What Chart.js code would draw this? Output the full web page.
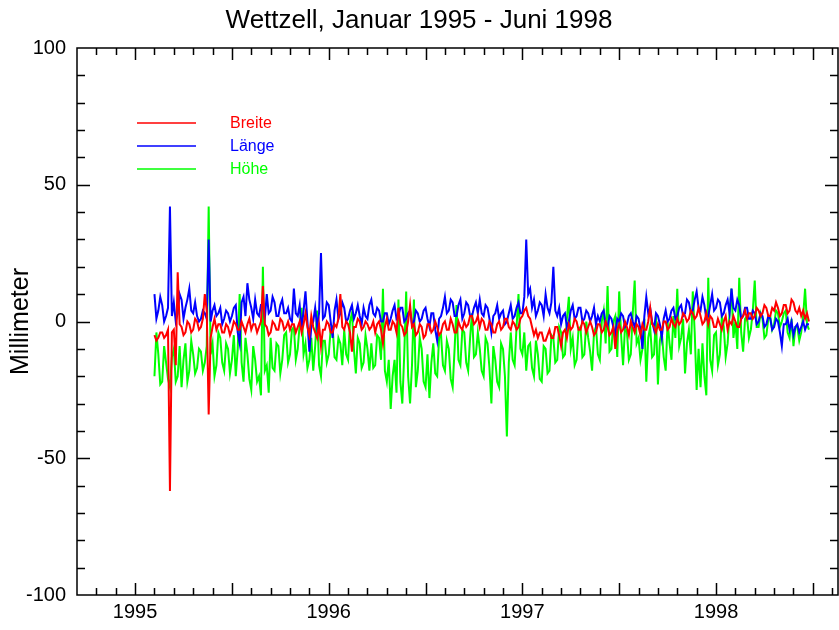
<!DOCTYPE html>
<html>
<head>
<meta charset="utf-8">
<script src="https://cdn.jsdelivr.net/npm/chart.js@4"></script>
<style>
  body { margin: 0; background: #fff; }
  #wrap { width: 839px; height: 630px; }
</style>
</head>
<body>
<div id="wrap"><canvas id="chart"></canvas></div>
<script>
// time grid of the samples (decimal years)
const startYear = 1995.10;
const stepYear = 0.01;

// Breite (north), millimeter
const breite = [
  -5, -7, -6, -4, -4, -6, -5, -3, -62, -4, -3, -16, 18, -1, -2, -5, -4, 0, -1, -4, -3, 1, 0, -3, -2, 1, 10, 4,
  -34, -6, -2, 1, -3, -1, -1, -4, -4, -1, -2, -5, -3, 0, -1, -3, -3, 0, -2, -4, -1, 1, -3, -1, -1, -4, -2, 0,
  13, -1, -2, -5, -4, 0, -1, -3, -3, 1, 0, -3, -2, 0, -3, -1, -1, -4, -2, 0, -4, -1, 3, -2, -5, 2, -2, -4,
  -6, -1, -9, -3, -3, 0, -1, -4, -4, -1, -2, 1, 10, -2, -3, 0, -1, -4, -11, -2, -2, 1, 0, -3, -2, 0, -1, -3,
  -2, 0, -4, -1, 0, -3, -8, -2, 1, -3, -3, 0, -1, -4, 5, -1, -2, -5, -4, 0, 6, -2, -1, -5, -4, -1, -2, -6,
  -5, -1, -1, -4, -3, 0, -2, -5, -4, -1, 0, -3, -3, 1, -1, -4, -4, 0, -2, -3, 0, -2, -1, 2, 2, -1, 0, 2,
  -2, 1, 0, -3, -3, 0, -1, -4, -4, -1, 0, -3, -2, 1, 1, -2, -3, 0, -1, -3, -2, 1, 2, 4, 5, 2, 1, -2,
  -5, -3, -6, -4, -4, -7, -7, -5, -3, -6, -6, -2, -2, -5, -9, -4, -3, -6, -1, -3, -2, 1, 0, -3, -3, 0, -1, -4, -2, 0,
  -2, -5, -4, -1, -1, -4, -3, 0, -2, -5, -4, -2, -10, -3, -1, -4, -3, 0, -2, -5, 0, -2, -4, -1, -2, -5, -1, -3,
  -3, 0, 5, -1, -2, -4, -1, -3, -3, 0, 0, -3, -2, 1, -1, -2, 1, -1, 0, 3, 2, 0, 1, 4, 3, 1, 2, 5,
  2, -1, 0, 3, -1, 2, 1, -2, -2, 1, -1, -3, 0, 2, -3, 0, -1, 2, 0, -2, -2, 1, 2, 4, 1, 3, 3, 1, 2, 5,
  4, 2, 3, 6, 5, 2, 2, 5, 4, 7, 5, 2, 3, 6, 6, 3, 4, 8, 7, 4, 3, 5, 2, 4, 1, 3, 0
];

// Länge (east), millimeter
const laenge = [
  10, 1, 4, 9, 6, 0, 2, 5, 42, 2, 7, 0, 3, 10, 8, 1, 5, 8, 12, 4, 3, 7, 2, 0, 1, 4, 3, 1,
  30, 0, 4, 6, 2, 3, 5, -1, 1, 4, 3, 0, 2, 5, 6, -4, -8, 7, 9, 2, 14, 8, 5, 1, 8, 3, 2, 6,
  6, 1, 10, 3, 4, 9, 7, 2, 2, 6, 8, 3, 3, 5, 1, 0, 12, 3, 2, 6, -3, 4, 11, 0, -11, -2, 0, 5,
  -2, 3, 25, 1, 2, 7, 6, 0, -6, 4, 8, 1, 3, 7, 5, 0, 1, 4, 6, 1, 3, 6, 2, -1, 5, 2, 1, 6,
  8, 3, 2, 5, 4, 0, 0, 3, 3, -1, 1, 4, 6, 1, 2, 5, 5, 0, 1, 3, 4, -1, 0, 4, 3, 0, 1, 4,
  5, 1, -2, 3, 3, -3, -7, 1, 2, 5, 9, 3, 4, 8, 7, 2, 2, 6, 8, 1, 3, 7, 6, 2, 2, 5, 7, 3,
  8, 3, 2, 6, 5, 1, -4, 2, 3, 6, 1, 3, 4, -1, 0, 3, 6, 1, 2, 5, 7, 3, 3, 9, 30, 10, 12, 5, 8, 2,
  4, 7, 6, 2, 10, 5, 3, 7, 20, 4, 2, 5, -1, 2, 3, -2, 0, 4, 6, 1, 2, 5, 5, 0, 1, 4, 3, 0,
  2, 5, -1, 2, 0, 3, 4, -1, -2, 2, 1, -2, -5, 1, 0, 3, 2, -2, -1, 2, 3, 0, -2, 2, 1, -3, -10, 2,
  9, 3, 5, 0, -3, 3, 2, -1, -6, 1, 4, 0, 1, 4, 5, 1, 2, 5, 6, 2, 3, 8, 7, 3, 4, 8, 11, 5,
  4, 9, 6, 1, 2, 6, 10, 4, 5, 8, 7, 2, 3, 6, 8, 3, 12, 5, 4, 8, 6, 1, 2, 5, 5, 1, 1, 4,
  3, -1, 0, 3, 2, -2, -1, 2, 1, -3, -2, 1, 0, -4, -9, -1, -1, 1, -3, 0, -5, -2, -1, -4, -2, 0, -3, -1, -1
];

// Höhe (up), millimeter
const hoehe = [
  -20, -4, -12, -23, -22, -9, -15, -21, -24, -13, -10, -22, -20, -9, -24, -14, -8, -22, -18, -7, -12, -19, -17, -10, -11, -18, -15, -9,
  42, -12, -8, -20, -16, -4, -6, -15, -18, -8, -10, -19, -14, -5, -20, -10, 10, -15, -22, -6, -12, -21, -25, -9, -14, -22, -20, -27,
  20, -18, -16, -26, -6, -17, -18, -8, -9, -19, -14, -5, -4, -15, -12, -3, -2, -14, -10, -1, 5, -12, -8, -17, -14, -6, -18, -9,
  4, -16, -20, -7, -7, -15, -12, -3, -2, -13, -14, -6, -8, -16, -3, -12, -14, 0, 3, -10, -19, -6, -8, -17, -15, -5, -10, -18,
  -8, -17, -16, -5, -6, -14, 12, -18, -22, -14, -32, -20, -14, -26, 8, -22, -30, -12, 11, -20, -30, -16, 8, -24, -18, -6,
  -10, -22, -24, -12, -28, -15, -8, -19, -20, -6, -5, -16, -18, -7, -10, -21, -24, -10, 6, -14, -16, -3, -4, -15, -18, -6, 3, -13, -12, -4,
  -10, -18, -20, -6, -8, -17, -30, -9, -14, -22, -24, -8, -10, -20, -42, -15, -4, -14, -16, -2, 10, -10, -12, -4, -18, -9, -8, -17,
  -20, -7, -12, -21, -22, -9, -10, -19, -18, -5, -6, -15, -14, -2, -4, -13, -12, 1, 9, -10, -6, -16, -14, -3, -2, -13, -12, 0, -6, -11,
  -18, -4, -2, -12, -14, 0, 4, -8, 13, -11, -10, 0, 2, -13, 11, -5, -16, -2, -4, -14, -12, 3, 15, -8, -6, -14, -10, 1,
  -22, -6, -2, -13, -12, 2, -23, -7, -4, -13, -18, 0, -8, -14, 2, -6, 12, -9, -6, 1, -19, -8, -3, -12, 11, -4, -25, -10,
  -24, -8, -20, -27, 16, -14, -18, -5, -4, -16, -12, 2, -2, -13, -8, 3, 12, -6, 0, -10, 16, -4, -11, 1, 2, -6, -3, 4,
  15, -2, -2, 3, 1, -6, -5, 1, 2, -3, -1, 4, 3, -2, 0, 3, 4, -4, -6, 1, -9, -2, -2, -7, -4, 2, 12, -1, -3
];

const seriesLabels = ['Breite', 'Länge', 'Höhe'];
const seriesColors = ['#ff0000', '#0000ff', '#00ff00'];

const yearTicks = [1995, 1996, 1997, 1998];
const mmTicks = [-100, -50, 0, 50, 100];

const xMin = 1994.7, xMax = 1998.63;
const yMin = -100, yMax = 100;

const fontFamily = "'Liberation Sans', Arial, sans-serif";

function toPoints(values) {
  return values.map((v, i) => ({ x: startYear + i * stepYear, y: v }));
}

// IDL-style box with inward ticks on all four sides
const frameTicks = {
  id: 'frameTicks',
  afterDraw(chart) {
    const ctx = chart.ctx;
    const { left, right, top, bottom } = chart.chartArea;
    const xs = chart.scales.x, ys = chart.scales.y;
    ctx.save();
    ctx.strokeStyle = '#000';
    ctx.lineWidth = 1.5;
    ctx.strokeRect(left, top, right - left, bottom - top);
    ctx.beginPath();
    for (let k = 1; xMin + k * 0.1 < xMax; k++) {
      const v = xMin + k * 0.1;
      const major = Math.abs(v * 2 - Math.round(v * 2)) < 1e-6;
      const len = major ? 12 : 7;
      const px = Math.round(xs.getPixelForValue(v)) + 0.5;
      ctx.moveTo(px, bottom); ctx.lineTo(px, bottom - len);
      ctx.moveTo(px, top); ctx.lineTo(px, top + len);
    }
    for (let v = yMin + 10; v < yMax; v += 10) {
      const len = v % 50 === 0 ? 13 : 8;
      const py = Math.round(ys.getPixelForValue(v)) + 0.5;
      ctx.moveTo(left, py); ctx.lineTo(left + len, py);
      ctx.moveTo(right, py); ctx.lineTo(right - len, py);
    }
    ctx.stroke();
    ctx.restore();
  }
};

// legend drawn inside the plot, upper left
const innerLegend = {
  id: 'innerLegend',
  afterDatasetsDraw(chart) {
    const ctx = chart.ctx;
    const { left, top } = chart.chartArea;
    ctx.save();
    ctx.font = "16px 'Liberation Sans', Arial, sans-serif";
    ctx.textBaseline = 'middle';
    chart.data.datasets.forEach((ds, i) => {
      const y = top + 75 + i * 23;
      ctx.strokeStyle = ds.borderColor;
      ctx.lineWidth = 1.5;
      ctx.beginPath();
      ctx.moveTo(left + 60, y);
      ctx.lineTo(left + 119, y);
      ctx.stroke();
      ctx.fillStyle = ds.borderColor;
      ctx.fillText(ds.label, left + 153, y + 1);
    });
    ctx.restore();
  }
};

new Chart(document.getElementById('chart'), {
  type: 'line',
  data: {
    datasets: [breite, laenge, hoehe].map((vals, i) => ({
      label: seriesLabels[i],
      data: toPoints(vals),
      borderColor: seriesColors[i],
      backgroundColor: seriesColors[i],
      borderWidth: 2,
      pointRadius: 0,
      tension: 0,
      fill: false,
    })),
  },
  options: {
    responsive: true,
    maintainAspectRatio: false,
    animation: false,
    layout: { padding: { left: 0, right: 1, top: 0, bottom: 0 } },
    plugins: {
      legend: { display: false },
      tooltip: { enabled: false },
      title: {
        display: true,
        text: 'Wettzell, Januar 1995 - Juni 1998',
        color: '#000',
        font: { family: fontFamily, size: 26, weight: 'normal' },
        padding: { top: 5, bottom: 11.8 },
      },
    },
    scales: {
      x: {
        type: 'linear',
        min: xMin,
        max: xMax,
        afterBuildTicks: (scale) => { scale.ticks = yearTicks.map((v) => ({ value: v })); },
        afterFit: (scale) => { scale.height = 35; },
        grid: { display: false, drawTicks: false },
        border: { display: false },
        ticks: {
          color: '#000',
          padding: 5,
          maxRotation: 0,
          font: { family: fontFamily, size: 20 },
          callback: (v) => String(v),
        },
      },
      y: {
        min: yMin,
        max: yMax,
        afterBuildTicks: (scale) => { scale.ticks = mmTicks.map((v) => ({ value: v })); },
        afterFit: (scale) => { scale.width = 77; },
        grid: { display: false, drawTicks: false },
        border: { display: false },
        title: {
          display: true,
          text: 'Millimeter',
          color: '#000',
          font: { family: fontFamily, size: 25 },
          padding: { top: 6, bottom: 0 },
        },
        ticks: {
          color: '#000',
          padding: 11,
          font: { family: fontFamily, size: 20 },
          callback: (v) => String(v),
        },
      },
    },
  },
  plugins: [frameTicks, innerLegend],
});
</script>
</body>
</html>
